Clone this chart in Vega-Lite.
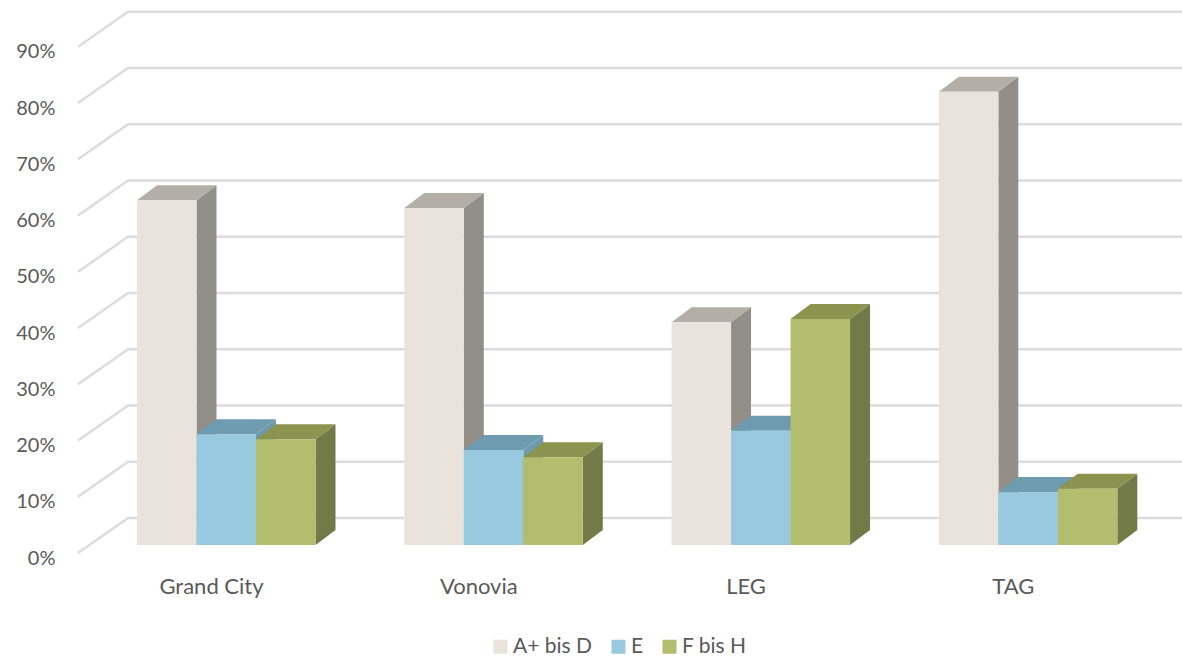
{
"$schema":"https://vega.github.io/schema/vega-lite/v6.json",
"width":1122,"height":572,
"autosize":{"type":"none"},
"padding":{"left":60,"top":0,"right":0,"bottom":84},
"background":"white",
"config":{"view":{"stroke":null},"font":"Lato"},
"datasets":{
"bars":[
{"company":"Grand City","series":"A+ bis D","value":61.3},
{"company":"Grand City","series":"E","value":19.7},
{"company":"Grand City","series":"F bis H","value":18.8},
{"company":"Vonovia","series":"A+ bis D","value":59.9},
{"company":"Vonovia","series":"E","value":16.9},
{"company":"Vonovia","series":"F bis H","value":15.6},
{"company":"LEG","series":"A+ bis D","value":39.6},
{"company":"LEG","series":"E","value":20.3},
{"company":"LEG","series":"F bis H","value":40.2},
{"company":"TAG","series":"A+ bis D","value":80.6},
{"company":"TAG","series":"E","value":9.4},
{"company":"TAG","series":"F bis H","value":10}
],
"ticks":[{"tick":0},{"tick":10},{"tick":20},{"tick":30},{"tick":40},{"tick":50},{"tick":60},{"tick":70},{"tick":80},{"tick":90}]
},
"layer":[
{
"data":{"name":"ticks"},
"transform":[
{"calculate":"[0,1,2]","as":"p"},{"flatten":["p"]},
{"calculate":"[-0.4976,-0.3105,3.633][datum.p]","as":"gx"},
{"calculate":"datum.tick+[-1.42,4.8,4.8][datum.p]","as":"gy"}
],
"mark":{"type":"line","color":"#dcdcdc","strokeWidth":2.5,"interpolate":"linear","clip":true},
"encoding":{
"x":{"field":"gx","type":"quantitative","scale":{"domain":[-0.565,3.633],"nice":false,"zero":false},
"axis":{"title":null,"values":[0,1,2,3],"domain":false,"ticks":false,"grid":false,"labelFontSize":22,"labelColor":"#595959","labelPadding":4,"labelFlush":false,"labelExpr":"['Grand City','Vonovia','LEG','TAG'][datum.value]"}},
"y":{"field":"gy","type":"quantitative","scale":{"domain":[-4.8,96.89],"nice":false,"zero":false},
"axis":{"title":null,"values":[0,10,20,30,40,50,60,70,80,90],"format":".0f","labelExpr":"datum.value+'%'","domain":false,"ticks":false,"grid":false,"labelFontSize":20,"labelColor":"#595959","labelPadding":5,"labelOffset":13,"labelFlush":false}},
"detail":{"field":"tick"}
}
},
{
"data":{"name":"bars"},
"transform":[
{"calculate":"indexof(['Grand City','Vonovia','LEG','TAG'],datum.company)-0.2768+indexof(['A+ bis D','E','F bis H'],datum.series)*0.2226","as":"x0"},
{"calculate":"datum.x0+0.2226","as":"x1"},
{"calculate":"[0,1]","as":"t"},{"flatten":["t"]},
{"calculate":"datum.x1+datum.t*0.0748","as":"sx"},
{"calculate":"datum.value+datum.t*2.667","as":"sy"},
{"calculate":"datum.t*2.667","as":"sy2"}
],
"mark":{"type":"area","orient":"vertical"},
"encoding":{
"x":{"field":"sx","type":"quantitative"},
"y":{"field":"sy","type":"quantitative"},
"y2":{"field":"sy2"},
"detail":[{"field":"company"},{"field":"series"}],
"fill":{"field":"series","type":"nominal","legend":null,"scale":{"name":"side","domain":["A+ bis D","E","F bis H"],"range":["#918f88","#6f9aae","#727b47"]}}
}
},
{
"data":{"name":"bars"},
"transform":[
{"calculate":"indexof(['Grand City','Vonovia','LEG','TAG'],datum.company)-0.2768+indexof(['A+ bis D','E','F bis H'],datum.series)*0.2226","as":"x0"},
{"calculate":"datum.x0+0.2226","as":"x1"},
{"calculate":"[0,1]","as":"t"},{"flatten":["t"]},
{"calculate":"datum.x0+datum.t*0.0748","as":"tx"},
{"calculate":"datum.x1+datum.t*0.0748","as":"tx2"},
{"calculate":"datum.value+datum.t*2.667","as":"ty"}
],
"mark":{"type":"area","orient":"horizontal"},
"encoding":{
"y":{"field":"ty","type":"quantitative"},
"x":{"field":"tx","type":"quantitative"},
"x2":{"field":"tx2"},
"detail":[{"field":"company"},{"field":"series"}],
"fill":{"field":"series","type":"nominal","legend":null,"scale":{"domain":["A+ bis D","E","F bis H"],"range":["#b3aea6","#6f9bb0","#8a944f"]}}
}
},
{
"data":{"name":"bars"},
"transform":[
{"calculate":"indexof(['Grand City','Vonovia','LEG','TAG'],datum.company)-0.2768+indexof(['A+ bis D','E','F bis H'],datum.series)*0.2226","as":"x0"},
{"calculate":"datum.x0+0.2226","as":"x1"},
{"calculate":"0","as":"base"}
],
"mark":{"type":"rect"},
"encoding":{
"x":{"field":"x0","type":"quantitative"},
"x2":{"field":"x1"},
"y":{"field":"value","type":"quantitative"},
"y2":{"field":"base"},
"color":{"field":"series","type":"nominal","title":null,
"scale":{"domain":["A+ bis D","E","F bis H"],"range":["#e9e3db","#99c9de","#b2bd6e"]},
"legend":{"orient":"none","legendX":430,"legendY":636,"direction":"horizontal","symbolType":"square","symbolSize":196,"symbolStrokeWidth":0,"labelFontSize":21,"labelColor":"#595959","labelOffset":2,"columnPadding":15,"title":null}}
}
}
],
"resolve":{"scale":{"color":"independent","fill":"independent"}}
}
